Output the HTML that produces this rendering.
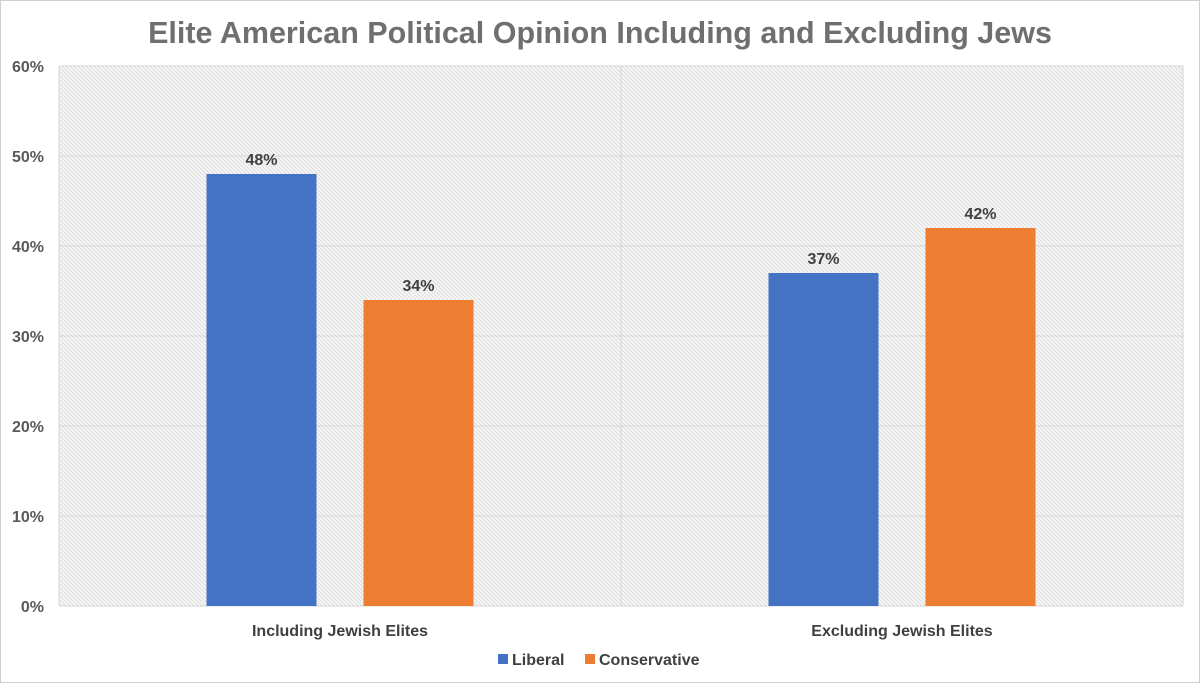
<!DOCTYPE html>
<html><head><meta charset="utf-8"><style>
body{margin:0;background:#fff;}
svg{display:block;font-family:"Liberation Sans",Arial,sans-serif;}
</style></head><body>
<svg id="chart" width="1200" height="683" viewBox="0 0 1200 683">
<defs>
<pattern id="hatch" width="4" height="4" patternUnits="userSpaceOnUse">
<rect width="4" height="4" fill="#f7f7f7"/>
<path d="M-1,-1 L5,5 M-1,3 L1,5 M3,-1 L5,1" stroke="#dcdcdc" stroke-width="1"/>
</pattern>
</defs>
<rect x="0.5" y="0.5" width="1199" height="682" fill="#fff" stroke="#d0d0d0"/>
<text x="600" y="43" text-anchor="middle" font-size="30.5" font-weight="bold" fill="#6f6f6f">Elite American Political Opinion Including and Excluding Jews</text>
<rect x="59" y="66" width="1124" height="540" fill="url(#hatch)"/>
<g id="grid"></g>
<g id="bars"></g>
<g id="legend">
<rect x="498" y="654" width="10" height="10" fill="#4472c4"/>
<text x="512" y="665" font-size="16" font-weight="bold" fill="#404040">Liberal</text>
<rect x="585" y="654" width="10" height="10" fill="#ed7d31"/>
<text x="599" y="665" font-size="16" font-weight="bold" fill="#404040">Conservative</text>
</g>
</svg>
<script>
const categories = ["Including Jewish Elites", "Excluding Jewish Elites"];
const liberal = [48, 37];
const conservative = [34, 42];
const yTicks = [0, 10, 20, 30, 40, 50, 60];
const NS = "http://www.w3.org/2000/svg";
const L = 59, R = 1183, T = 66, B = 606, yMax = 60;
const y = v => B - v / yMax * (B - T);
const catW = (R - L) / categories.length;
const cx = i => L + catW * (i + 0.5);
function mk(tag, attrs, parent) { const e = document.createElementNS(NS, tag); for (const k in attrs) e.setAttribute(k, attrs[k]); parent.appendChild(e); return e; }
const grid = document.getElementById("grid"), bars = document.getElementById("bars");
yTicks.forEach(t => {
  const ln = mk("line", {x1: L, x2: R, y1: y(t), y2: y(t), stroke: "#d6d6d6", "stroke-width": 1}, grid);
  
  
  const tx = mk("text", {x: 44, y: y(t) + 6, "text-anchor": "end", "font-size": 16, "font-weight": "bold", fill: "#595959"}, grid);
  tx.textContent = t + "%";
  
  
});
[L, ...categories.map((c, i) => L + catW * (i + 1))].forEach(xv => {
  const ln = mk("line", {x1: xv, x2: xv, y1: T, y2: B, stroke: "#d6d6d6", "stroke-width": 1}, grid);
  
  
});
const bw = 110, gap = 47;
categories.forEach((c, i) => {
  const series = [[liberal[i], "#4472c4", "liberal"], [conservative[i], "#ed7d31", "conservative"]];
  series.forEach((s, j) => {
    const x0 = cx(i) - bw - gap / 2 + j * (bw + gap);
    const r = mk("rect", {x: x0, y: y(s[0]), width: bw, height: B - y(s[0]), fill: s[1]}, bars);
    
    
    const lb = mk("text", {x: x0 + bw / 2, y: y(s[0]) - 9, "text-anchor": "middle", "font-size": 16, "font-weight": "bold", fill: "#404040"}, bars);
    lb.textContent = s[0] + "%";
    
    
  });
  const ct = mk("text", {x: cx(i), y: 636, "text-anchor": "middle", "font-size": 16, "font-weight": "bold", fill: "#404040"}, bars);
  ct.textContent = c;
  
  
});
</script>
</body></html>
